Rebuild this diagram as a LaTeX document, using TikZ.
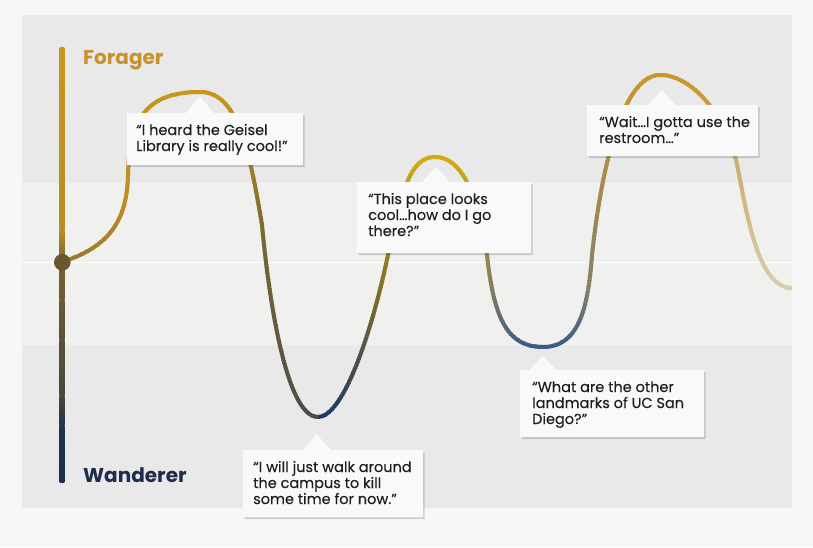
\documentclass[tikz,border=0pt]{standalone}
\usepackage{fontspec}
\setmainfont{Poppins}
\usetikzlibrary{shadows}
\definecolor{outerbg}{HTML}{F7F7F7}
\definecolor{panelbg}{HTML}{E9E9E9}
\definecolor{bandbg}{HTML}{F0F0EF}
\definecolor{boxfill}{HTML}{F9F9F9}
\definecolor{quotetext}{HTML}{1E1E1E}
\definecolor{foragerc}{HTML}{C8922A}
\definecolor{wandererc}{HTML}{1E2D4A}
\definecolor{dotc}{HTML}{6B5530}
% axis stops
\definecolor{ax1}{HTML}{C8961E}
\definecolor{ax2}{HTML}{BA8C22}
\definecolor{ax3}{HTML}{7A6430}
\definecolor{ax4}{HTML}{6A5836}
\definecolor{ax5}{HTML}{5A5240}
\definecolor{ax6}{HTML}{4A4838}
\definecolor{ax7}{HTML}{22324E}
\definecolor{ax8}{HTML}{1C2E4E}
% curve colours
\definecolor{g1}{HTML}{C8961E}
\definecolor{g1b}{HTML}{BE8E24}
\definecolor{g0}{HTML}{9A7A2E}
\definecolor{ol1}{HTML}{7A6A30}
\definecolor{dk1}{HTML}{4E4D45}
\definecolor{g2}{HTML}{D4AA10}
\definecolor{ol2}{HTML}{7A6A2A}
\definecolor{nv1}{HTML}{1F3866}
\definecolor{gy3}{HTML}{7E7A64}
\definecolor{bl2}{HTML}{3A5A8A}
\definecolor{g3}{HTML}{C8962A}
\definecolor{gy4}{HTML}{84806A}
\definecolor{tn1}{HTML}{CCAE6C}
\definecolor{tn2}{HTML}{D8CCB0}
\tikzset{
  calloutbox/.style={fill=boxfill, drop shadow={shadow xshift=1.5pt, shadow yshift=-2pt, opacity=0.16, fill=black}},
  quotetxt/.style={anchor=base west, inner sep=0pt, text=quotetext, font=\fontsize{14.5}{16}\selectfont\addfontfeature{FakeBold=0.2}},
  curvestroke/.style={line width=4pt},
  axislabel/.style={anchor=base west, inner sep=0pt, font=\fontsize{20}{24}\selectfont\bfseries},
}
\def\mycurve{(62,262) .. controls (105,248) and (127,225) .. (128,175)
 .. controls (129,115) and (150,92) .. (200,92)
 .. controls (235,92) and (248,140) .. (262,225)
 .. controls (268,290) and (285,417) .. (318,417)
 .. controls (342,417) and (370,340) .. (388,255)
 .. controls (402,190) and (410,157) .. (435,157)
 .. controls (462,157) and (478,195) .. (487,255)
 .. controls (494,320) and (508,347) .. (543,347)
 .. controls (578,347) and (588,310) .. (592,255)
 .. controls (600,180) and (620,75) .. (660,75)
 .. controls (692,75) and (725,115) .. (736,160)
 .. controls (745,200) and (755,288) .. (792,288)}
% #1 xa #2 xb #3 y1 #4 c1 #5 y2 #6 c2 #7 y3 #8 c3
\newcommand\curvepiece[8]{%
  \pgfmathtruncatemacro\nb{((#7)-(#3)+16)/3}%
  \foreach \k in {0,...,\nb}{%
    \pgfmathsetmacro\ya{#3-8+3*\k}%
    \pgfmathsetmacro\yc{\ya+1.5}%
    \pgfmathtruncatemacro\isup{\yc<#5}%
    \ifnum\isup=1
      \pgfmathtruncatemacro\pp{max(0,min(100,((\yc-(#3))/((#5)-(#3)))*100))}%
      \colorlet{cc}{#6!\pp!#4}%
    \else
      \pgfmathtruncatemacro\pp{max(0,min(100,((\yc-(#5))/((#7)-(#5)))*100))}%
      \colorlet{cc}{#8!\pp!#6}%
    \fi
    \begin{scope}
      \clip (#1,\ya) rectangle (#2,\ya+3.5);
      \draw[curvestroke, cc] \mycurve;
    \end{scope}
  }%
}
\newcommand\callout[6]{%
  \path[calloutbox] (#1,#2) -- (#5-14,#2) -- (#5,#6) -- (#5+14,#2) -- (#3,#2) -- (#3,#4) -- (#1,#4) -- cycle;}
\begin{document}
\begin{tikzpicture}[x=1pt,y=-1pt]
\useasboundingbox (0,0) rectangle (813,547);
\fill[outerbg] (0,0) rectangle (813,547);
\fill[panelbg] (22,15) rectangle (792,508);
\fill[bandbg] (22,183) rectangle (792,345);
\draw[white, line width=1.5pt] (22,262.5) -- (792,262.5);
% curve
\curvepiece{20}{200}{92}{g1}{200}{g1b}{262}{g0}
\curvepiece{200}{318}{92}{g1}{230}{ol1}{417}{dk1}
\curvepiece{318}{435}{157}{g2}{300}{ol2}{417}{nv1}
\curvepiece{435}{543}{157}{g2}{295}{gy3}{347}{bl2}
\curvepiece{543}{660}{75}{g3}{290}{gy4}{347}{bl2}
\curvepiece{660}{792}{75}{g3}{160}{tn1}{288}{tn2}
% axis
\fill[top color=ax1, bottom color=ax2] (59.7,47) rectangle (64.3,230.5);
\fill[top color=ax2, bottom color=ax3] (59.7,230) rectangle (64.3,262.5);
\fill[top color=ax3, bottom color=ax4] (59.7,262) rectangle (64.3,300.5);
\fill[top color=ax4, bottom color=ax5] (59.7,300) rectangle (64.3,340.5);
\fill[top color=ax5, bottom color=ax6] (59.7,340) rectangle (64.3,395.5);
\fill[top color=ax6, bottom color=ax7] (59.7,395) rectangle (64.3,425.5);
\fill[top color=ax7, bottom color=ax8] (59.7,425) rectangle (64.3,482);
\fill[dotc] (62.3,262.3) circle (8.3);
\node[axislabel, text=foragerc] (forager) at (83,64) {Forager};
\node[axislabel, text=wandererc] (wanderer) at (83,482) {Wanderer};
% callouts
\callout{127}{113}{303}{165}{200}{96}
\node[quotetxt] (q1) at (136,135) {\begin{tabular}[t]{@{}l@{}}“I heard the Geisel\\Library is really cool!”\end{tabular}};
\callout{357}{182}{531}{253}{436}{167}
\node[quotetxt] (q2) at (368,204) {\begin{tabular}[t]{@{}l@{}}“This place looks\\cool…how do I go\\there?”\end{tabular}};
\callout{243}{450}{423}{517}{317}{434}
\node[quotetxt] (q3) at (253,472) {\begin{tabular}[t]{@{}l@{}}“I will just walk around\\the campus to kill\\some time for now.”\end{tabular}};
\callout{520}{370}{704}{437}{543}{356}
\node[quotetxt] (q4) at (532,392) {\begin{tabular}[t]{@{}l@{}}“What are the other\\landmarks of UC San\\Diego?”\end{tabular}};
\callout{587}{105}{758}{156}{662}{90}
\node[quotetxt] (q5) at (599,127) {\begin{tabular}[t]{@{}l@{}}“Wait…I gotta use the\\restroom…”\end{tabular}};
\end{tikzpicture}
\end{document}
